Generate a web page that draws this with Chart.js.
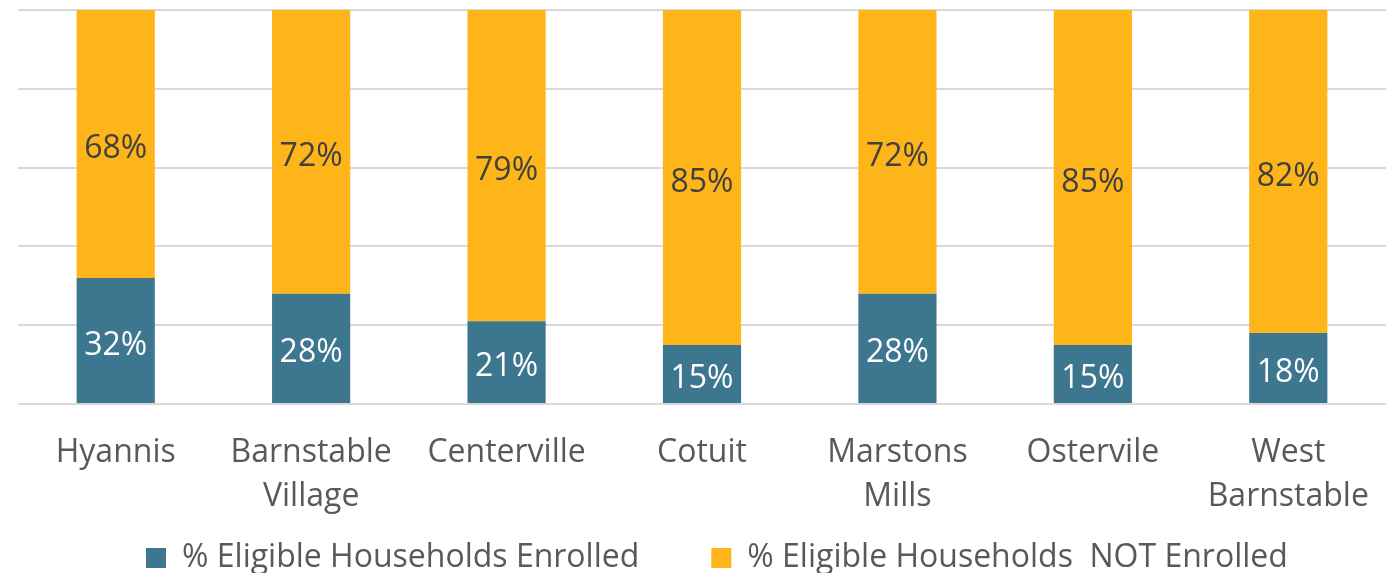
<!DOCTYPE html>
<html>
<head>
<meta charset="utf-8">
<script src="https://cdn.jsdelivr.net/npm/chart.js@4.4.1/dist/chart.umd.min.js"></script>
<style>
  html, body { margin: 0; padding: 0; background: #ffffff; }
  #wrap { width: 1397px; height: 573px; }
</style>
</head>
<body>
<div id="wrap"><canvas id="c" width="1397" height="573"></canvas></div>
<script>
// ---- data ----
const categories = [
  ['Hyannis'],
  ['Barnstable', 'Village'],
  ['Centerville'],
  ['Cotuit'],
  ['Marstons', 'Mills'],
  ['Ostervile'],
  ['West', 'Barnstable']
];
const seriesNames = ['% Eligible Households Enrolled', '% Eligible Households  NOT Enrolled'];
const enrolled    = [32, 28, 21, 15, 28, 15, 18];
const notEnrolled = [68, 72, 79, 85, 72, 85, 82];
const yTicks = [0, 20, 40, 60, 80, 100];

// ---- styles ----
const BLUE = '#3C768F';
const ORANGE = '#FDB51A';
const TEXT = '#595959';
const FONT = "'Open Sans', 'Noto Sans', sans-serif";
const FONT_SIZE = 32;
const TICK_PAD = 27;
const LEGEND_PAD = 72;
const LEGEND_HEIGHT = 27;
const LEGEND_ITEM_TOP = 542;
const LEGEND_START_X = 146;

const valueLabels = {
  id: 'valueLabels',
  afterDatasetsDraw(chart) {
    const ctx = chart.ctx;
    ctx.save();
    ctx.font = FONT_SIZE + 'px ' + FONT;
    ctx.textAlign = 'center';
    ctx.textBaseline = 'middle';
    chart.data.datasets.forEach((ds, di) => {
      const meta = chart.getDatasetMeta(di);
      meta.data.forEach((bar, i) => {
        const v = ds.data[i];
        const y = (bar.y + bar.base) / 2 + 5;
        ctx.fillStyle = ds.labelColor;
        ctx.fillText(v + '%', bar.x, y);
      });
    });
    ctx.restore();
  }
};

const chart = new Chart(document.getElementById('c'), {
  type: 'bar',
  data: {
    labels: categories,
    datasets: [
      { label: seriesNames[0], data: enrolled, backgroundColor: BLUE, borderWidth: 0, labelColor: '#ffffff' },
      { label: seriesNames[1], data: notEnrolled, backgroundColor: ORANGE, borderWidth: 0, labelColor: '#404040' }
    ]
  },
  options: {
    responsive: false,
    animation: false,
    layout: { padding: { left: 18, right: 11, top: 10, bottom: 0 } },
    datasets: { bar: { categoryPercentage: 1.0, barPercentage: 0.4 } },
    scales: {
      x: {
        stacked: true,
        grid: { display: false, drawTicks: false },
        border: { display: false },
        ticks: {
          color: TEXT,
          padding: TICK_PAD,
          maxRotation: 0,
          autoSkip: false,
          font: { family: FONT, size: FONT_SIZE, lineHeight: 1.375 }
        }
      },
      y: {
        stacked: true,
        min: yTicks[0],
        max: yTicks[yTicks.length - 1],
        afterBuildTicks(scale) { scale.ticks = yTicks.map(v => ({ value: v })); },
        grid: { color: '#D9D9D9', lineWidth: 2, drawTicks: false },
        border: { display: false },
        ticks: { display: false }
      }
    },
    plugins: {
      legend: {
        position: 'bottom',
        labels: {
          color: TEXT,
          boxWidth: 20,
          boxHeight: 20,
          padding: LEGEND_PAD,
          font: { family: FONT, size: FONT_SIZE }
        }
      },
      tooltip: { enabled: false }
    }
  },
  plugins: [valueLabels]
});

// Compact the legend box vertically while keeping a wide horizontal gap between items.
const lg = chart.legend;
const origFit = lg.fit.bind(lg);
lg.fit = function () {
  origFit();
  this.height = LEGEND_HEIGHT;
};
const origDraw = lg.draw.bind(lg);
lg.draw = function () {
  const t = this.top, l = this.left, r = this.right;
  const natural = (this.left + LEGEND_PAD + this.right - this.lineWidths[0]) / 2;
  const dx = LEGEND_START_X - natural;
  this.top = LEGEND_ITEM_TOP - LEGEND_PAD;
  this.left = l + dx;
  this.right = r + dx;
  origDraw();
  this.top = t; this.left = l; this.right = r;
};
chart.update();
</script>
</body>
</html>
